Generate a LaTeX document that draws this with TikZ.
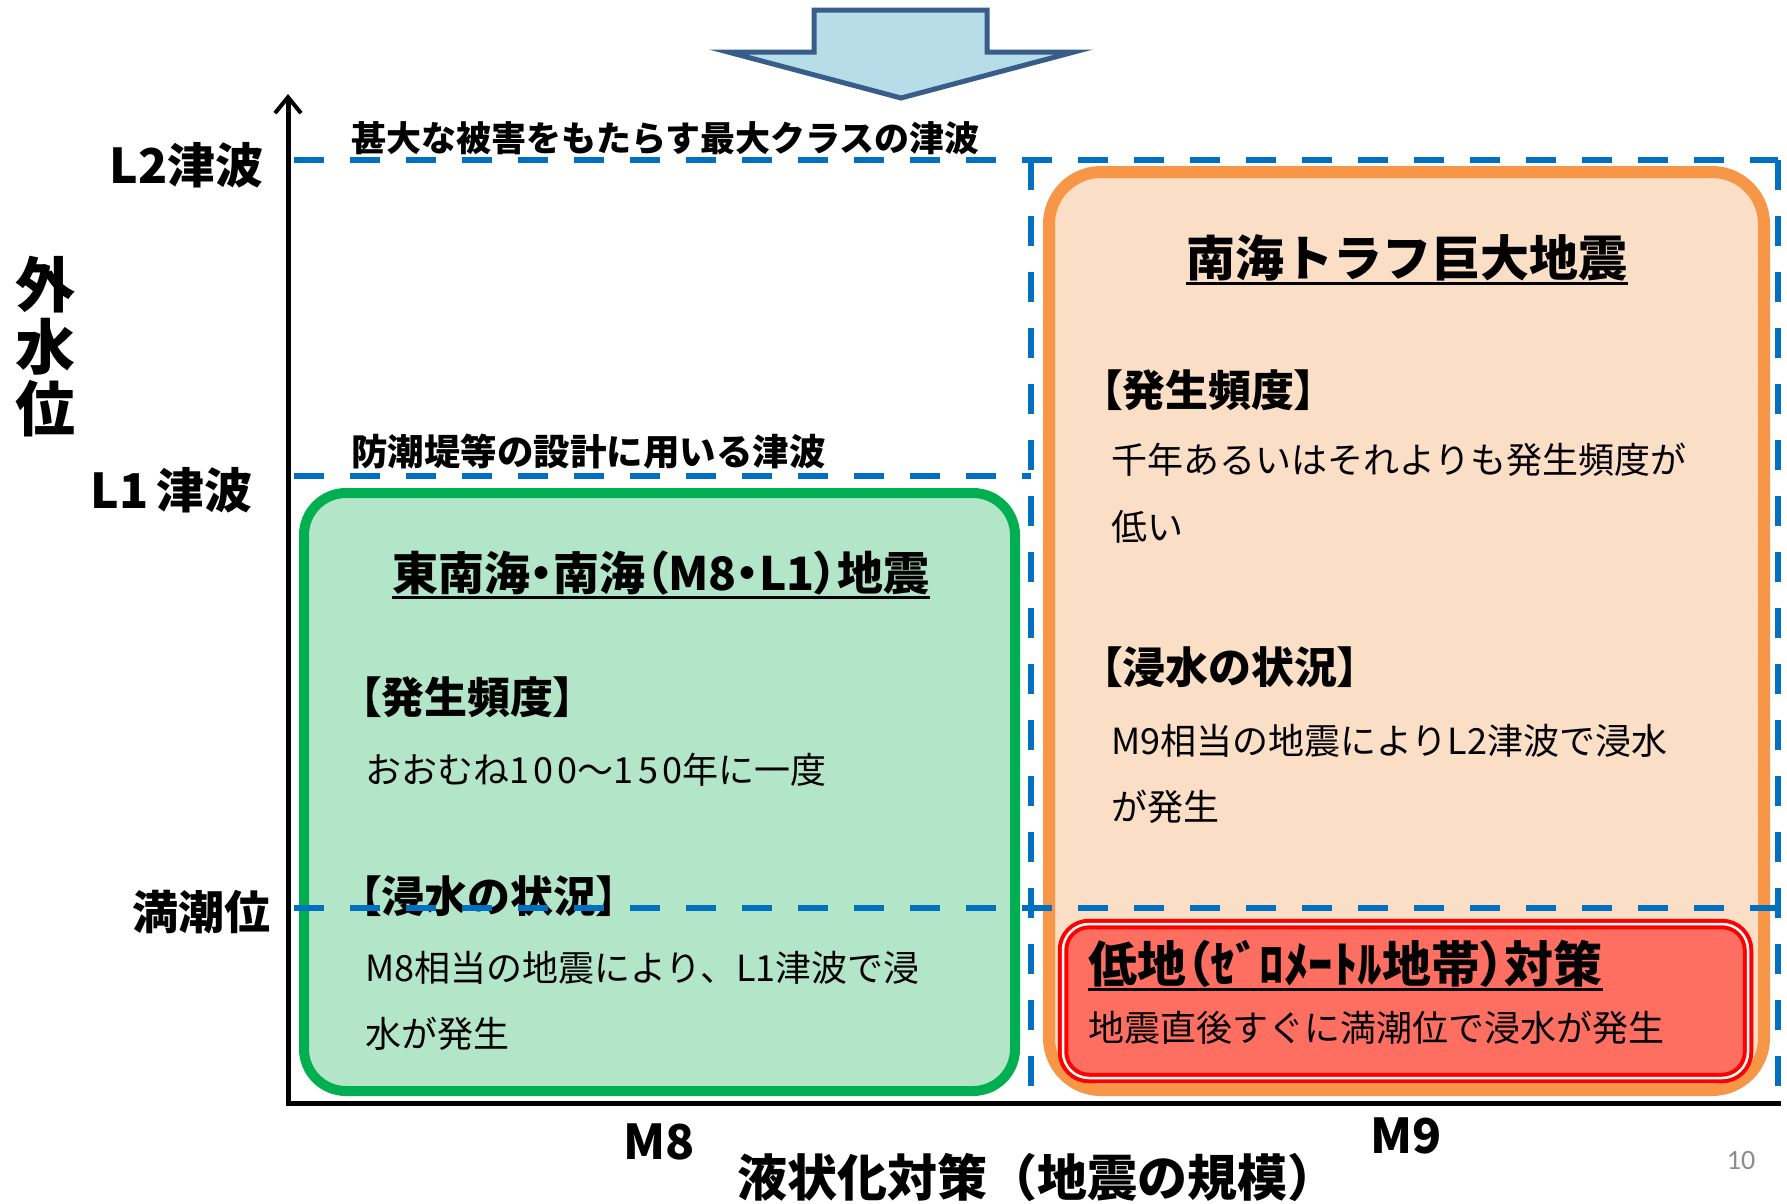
\documentclass[tikz,border=0pt]{standalone}
\usepackage{fontspec}
\setmainfont{Noto Sans CJK JP}
\newfontfamily\jpp[RawFeature=+palt]{Noto Sans CJK JP}
\newfontfamily\widedigits[LetterSpace=12]{Noto Sans CJK JP}
\newfontfamily\pagenumfont{Carlito}
\usetikzlibrary{arrows.meta}
\definecolor{dashblue}{RGB}{0,112,192}
\definecolor{arrowfill}{RGB}{183,221,232}
\definecolor{arrowline}{RGB}{56,93,138}
\definecolor{greenfill}{RGB}{179,230,200}
\definecolor{greenline}{RGB}{0,176,80}
\definecolor{orangefill}{RGB}{251,222,198}
\definecolor{orangeline}{RGB}{247,150,70}
\definecolor{redfill}{RGB}{255,111,97}
\definecolor{redline}{RGB}{255,0,0}
\definecolor{pagegray}{RGB}{140,140,140}
\tikzset{
  greenbox/.style={draw=greenline, fill=greenfill, line width=10pt, rounded corners=42pt, inner sep=0pt},
  orangebox/.style={draw=orangeline, fill=orangefill, line width=12pt, rounded corners=52pt, inner sep=0pt},
  redbox/.style={draw=redline, fill=redfill, line width=4pt, double=white, double distance=2.5pt, rounded corners=26pt, inner sep=0pt},
  levline/.style={draw=dashblue, line width=6pt, dash pattern=on 30pt off 26pt},
  axisline/.style={draw=black, line width=5pt},
  uline/.style={draw=black, line width=3pt},
  boxtitle/.style={inner sep=0pt, font=\jpp\bfseries\fontsize{46}{50}\selectfont},
  head/.style={inner sep=0pt, anchor=west, font=\jpp\bfseries\fontsize{43}{48}\selectfont},
  body/.style={inner sep=0pt, anchor=west, font=\fontsize{36}{40}\selectfont},
  levlabel/.style={inner sep=0pt, anchor=east, font=\bfseries\fontsize{48}{52}\selectfont},
  levnote/.style={inner sep=0pt, anchor=west, font=\bfseries\fontsize{35}{40}\selectfont},
  scalelabel/.style={inner sep=0pt, font=\bfseries\fontsize{48}{52}\selectfont},
}
\begin{document}
\begin{tikzpicture}[x=1pt,y=-1pt]
\useasboundingbox (0,0) rectangle (1787,1203);

% top block arrow
\draw[draw=arrowline, fill=arrowfill, line width=5pt, line join=miter]
  (814,10) -- (987,10) -- (987,52) -- (1074,52) -- (901,98) -- (728,52) -- (814,52) -- cycle;

% boxes
\node[greenbox, minimum width=711pt, minimum height=598pt] (gbox) at (659.5,792) {};
\node[orangebox, minimum width=715pt, minimum height=918pt] (obox) at (1406.5,631) {};
\node[redbox, minimum width=685pt, minimum height=154pt] (rbox) at (1405.5,1001) {};

% green box texts
\node[boxtitle] (gt) at (661,573) {東南海・南海（M8・L1）地震};
\draw[uline] ([yshift=-2pt]gt.south west) -- ([yshift=-2pt]gt.south east);
\node[head] (gh1) at (360,697) {【発生頻度】};
\node[body] (gb1) at (365,770) {おおむね{\widedigits 100}～{\widedigits 150}年に一度};
\node[head] (gh2) at (360,896) {【浸水の状況】};
\node[body] (gb2) at (365,968) {M8相当の地震により、L1津波で浸};
\node[body] (gb3) at (365,1034) {水が発生};

% orange box texts
\node[boxtitle, font=\bfseries\fontsize{49}{52}\selectfont] (ot) at (1407,258) {南海トラフ巨大地震};
\draw[uline] ([yshift=-2pt]ot.south west) -- ([yshift=-2pt]ot.south east);
\node[head] (oh1) at (1101,390) {【発生頻度】};
\node[body] (ob1) at (1111,460) {千年あるいはそれよりも発生頻度が};
\node[body] (ob2) at (1111,527) {低い};
\node[head] (oh2) at (1101,667) {【浸水の状況】};
\node[body] (ob3) at (1111,741) {M9相当の地震によりL2津波で浸水};
\node[body] (ob4) at (1111,807) {が発生};

% red box texts
\node[boxtitle, anchor=west, font=\jpp\bfseries\fontsize{49}{52}\selectfont] (rt) at (1088,964) {低地（ｾﾞﾛﾒｰﾄﾙ地帯）対策};
\draw[uline] ([yshift=-2pt]rt.south west) -- ([yshift=-2pt]rt.south east);
\node[body] (rb1) at (1088,1028) {地震直後すぐに満潮位で浸水が発生};

% level lines
\coordinate (l2a) at (294,160);
\coordinate (l2b) at (1778,160);
\coordinate (l1a) at (294,476);
\coordinate (l1b) at (1031,476);
\coordinate (hwa) at (294,908);
\coordinate (hwb) at (1778,908);
\coordinate (vma) at (1031,160);
\coordinate (vmb) at (1031,1103);
\coordinate (vra) at (1778,160);
\coordinate (vrb) at (1778,1103);
\draw[levline] (l2a) -- (l2b);
\draw[levline] (l1a) -- (l1b);
\draw[levline] (hwa) -- (hwb);
\draw[levline] (vma) -- (vmb);
\draw[levline] (vra) -- (vrb);

% axes
\coordinate (origin) at (288,1103);
\coordinate (ytop) at (288,94);
\coordinate (xend) at (1781,1103);
\draw[axisline, -{Straight Barb[length=16pt,width=26pt,line width=4pt]}] (origin) -- (ytop);
\draw[axisline] ([xshift=-2.5pt]origin) -- (xend);

% level labels
\node[levlabel] (lab2) at (264,165) {L2津波};
\node[levlabel] (lab1) at (253,490) {L1\,津波};
\node[levlabel, font=\bfseries\fontsize{46}{50}\selectfont] (labh) at (271,912) {満潮位};
\node[levnote] (n2) at (351,138) {甚大な被害をもたらす最大クラスの津波};
\node[levnote, font=\bfseries\fontsize{36.5}{40}\selectfont] (n1) at (351,452) {防潮堤等の設計に用いる津波};

% axis titles
\node[inner sep=0pt, align=center, font=\bfseries\fontsize{60}{62}\selectfont] (ytitle) at (46,347) {外\\水\\位};
\node[scalelabel] (m8) at (659,1142) {M8};
\node[scalelabel] (m9) at (1406,1136) {M9};
\node[scalelabel, font=\bfseries\fontsize{50}{54}\selectfont] (xtitle) at (1037,1177) {液状化対策（地震の規模）};
\node[inner sep=0pt, text=pagegray, font=\pagenumfont\fontsize{28}{30}\selectfont] (pg) at (1741,1160) {10};
\end{tikzpicture}
\end{document}
